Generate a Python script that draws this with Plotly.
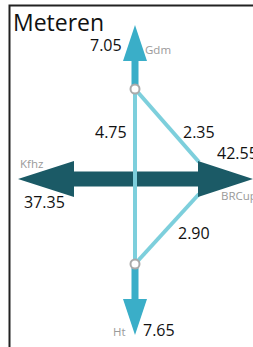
import plotly.graph_objects as go

title = "Meteren"
port_names = ["Gdm", "Kfhz", "BRCup", "Ht"]
port_values = [7.05, 37.35, 42.55, 7.65]
link_names = ["N-S", "N-E", "E-S"]
link_values = [4.75, 2.35, 2.90]

W, H = 253, 347
C_MID = "#3AAEC8"
C_LIGHT = "#7DCFDC"
C_DARK = "#1B5A66"
C_GREY = "#9a9a9a"

# layout geometry (pixel space)
cx = 135
n_top = (cx, 89)
n_bot = (cx, 264)
hy = 179

fig = go.Figure()

def poly(xs, ys, color):
    fig.add_trace(go.Scatter(x=xs + [xs[0]], y=ys + [ys[0]], mode="lines", fill="toself",
                             fillcolor=color, line=dict(color=color, width=0),
                             hoverinfo="skip", showlegend=False))

def line(xs, ys, color, w):
    fig.add_trace(go.Scatter(x=xs, y=ys, mode="lines", line=dict(color=color, width=w),
                             hoverinfo="skip", showlegend=False))

# diagonals (under the dark arrow)
line([n_top[0], 199], [n_top[1], 162], C_LIGHT, 4)
line([199, n_bot[0]], [194, n_bot[1]], C_LIGHT, 4)

# horizontal double arrow
sh = 7.5
poly([74, 198, 198, 253, 198, 198, 74, 74, 18, 74],
     [hy - sh, hy - sh, hy - 18, hy, hy + 18, hy + sh, hy + sh, hy + 18, hy, hy - 18], C_DARK)

# vertical light line (on top)
line([n_top[0], n_bot[0]], [n_top[1], n_bot[1]], C_LIGHT, 4)

# top arrow
poly([cx - 3.5, cx - 3.5, cx - 12, cx, cx + 12, cx + 3.5, cx + 3.5],
     [n_top[1], 61, 61, 25, 61, 61, n_top[1]], C_MID)
# bottom arrow
poly([cx - 3.5, cx - 3.5, cx - 12, cx, cx + 12, cx + 3.5, cx + 3.5],
     [n_bot[1], 299, 299, 335, 299, 299, n_bot[1]], C_MID)

# nodes
fig.add_trace(go.Scatter(x=[n_top[0], n_bot[0]], y=[n_top[1], n_bot[1]], mode="markers",
                         marker=dict(size=9, color="white", line=dict(color="#aaaaaa", width=2)),
                         hoverinfo="skip", showlegend=False))

# frame (left + top edges)
line([9.5, 9.5, 300], [400, 5.5, 5.5], "#222222", 2)

FAM = "Open Sans, Noto Sans, sans-serif"
font_num = dict(family=FAM, size=16, color="#111")
font_lab = dict(family=FAM, size=11.5, color=C_GREY)

def txt(s, x, y, anchor, font):
    fig.add_annotation(x=x, y=y, text=s, showarrow=False, xanchor=anchor, yanchor="middle",
                       font=font, xref="x", yref="y")

txt(title, 11, 22, "left", dict(family=FAM, size=23, color="#111"))

txt(f"{port_values[0]:.2f}", 124, 45, "right", font_num)
txt(port_names[0], 143, 49, "left", font_lab)
txt(f"{port_values[1]:.2f}", 22, 202, "left", font_num)
txt(port_names[1], 18, 163, "left", font_lab)
txt(f"{port_values[2]:.2f}", 215, 153, "left", font_num)
txt(port_names[2], 219, 195, "left", font_lab)
txt(f"{port_values[3]:.2f}", 141, 330, "left", font_num)
txt(port_names[3], 128, 331, "right", font_lab)

txt(f"{link_values[0]:.2f}", 129, 132, "right", font_num)
txt(f"{link_values[1]:.2f}", 181, 132, "left", font_num)
txt(f"{link_values[2]:.2f}", 176, 233, "left", font_num)

fig.update_layout(width=W, height=H, margin=dict(l=0, r=0, t=0, b=0),
                  paper_bgcolor="white", plot_bgcolor="white",
                  xaxis=dict(range=[0, W], visible=False, fixedrange=True),
                  yaxis=dict(range=[H, 0], visible=False, fixedrange=True))

fig.write_html("out.html", config={"displayModeBar": False},
               post_script="document.body.style.margin='0';document.body.style.overflow='hidden';")
